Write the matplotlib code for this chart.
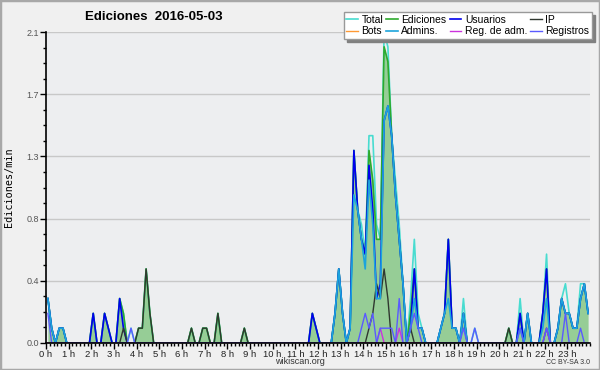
import numpy as np
import matplotlib
matplotlib.use("Agg")
import matplotlib.pyplot as plt
from matplotlib.ticker import MultipleLocator
from matplotlib.patches import Rectangle

# edits per minute, 10 minute bins (6 per hour), one row per hour
total = [
    0.3, 0.1, 0, 0.1, 0.1, 0,      # 0 h
    0, 0, 0, 0, 0, 0,              # 1 h
    0.2, 0, 0, 0.2, 0.1, 0,        # 2 h
    0, 0.3, 0.2, 0, 0.1, 0,        # 3 h
    0.1, 0.1, 0.5, 0.2, 0, 0,      # 4 h
    0, 0, 0, 0, 0, 0,              # 5 h
    0, 0, 0.1, 0, 0, 0.1,          # 6 h
    0.1, 0, 0, 0.2, 0, 0,          # 7 h
    0, 0, 0, 0, 0.1, 0,            # 8 h
    0, 0, 0, 0, 0, 0,              # 9 h
    0, 0, 0, 0, 0, 0,              # 10 h
    0, 0, 0, 0, 0.2, 0.1,          # 11 h
    0, 0, 0, 0, 0.2, 0.5,          # 12 h
    0.2, 0, 0.1, 1.3, 0.9, 0.8,    # 13 h
    0.6, 1.4, 1.4, 0.8, 0.7, 2.1,  # 14 h
    2.0, 1.4, 1.1, 0.8, 0.4, 0,    # 15 h
    0.3, 0.7, 0.2, 0.1, 0, 0,      # 16 h
    0, 0, 0.1, 0.2, 0.7, 0.1,      # 17 h
    0.1, 0, 0.3, 0, 0, 0.1,        # 18 h
    0, 0, 0, 0, 0, 0,              # 19 h
    0, 0, 0.1, 0, 0, 0.3,          # 20 h
    0, 0.2, 0, 0, 0, 0.2,          # 21 h
    0.6, 0, 0, 0.1, 0.3, 0.4,      # 22 h
    0.2, 0.1, 0.1, 0.4, 0.4, 0.2,  # 23 h
]
ediciones = [
    0.3, 0.1, 0, 0.1, 0.1, 0,
    0, 0, 0, 0, 0, 0,
    0.2, 0, 0, 0.2, 0.1, 0,
    0, 0.3, 0.2, 0, 0, 0,
    0.1, 0.1, 0.5, 0.2, 0, 0,
    0, 0, 0, 0, 0, 0,
    0, 0, 0.1, 0, 0, 0.1,
    0.1, 0, 0, 0.2, 0, 0,
    0, 0, 0, 0, 0.1, 0,
    0, 0, 0, 0, 0, 0,
    0, 0, 0, 0, 0, 0,
    0, 0, 0, 0, 0.2, 0.1,
    0, 0, 0, 0, 0.2, 0.5,
    0.2, 0, 0.1, 1.3, 0.9, 0.7,
    0.6, 1.3, 1.1, 0.7, 0.7, 2.0,
    1.9, 1.4, 1.0, 0.7, 0.4, 0,
    0.2, 0.5, 0.1, 0.1, 0, 0,
    0, 0, 0.1, 0.2, 0.7, 0.1,
    0.1, 0, 0.2, 0, 0, 0,
    0, 0, 0, 0, 0, 0,
    0, 0, 0.1, 0, 0, 0.2,
    0, 0.2, 0, 0, 0, 0.2,
    0.5, 0, 0, 0.1, 0.3, 0.2,
    0.2, 0.1, 0.1, 0.3, 0.4, 0.2,
]
usuarios = [
    0.3, 0.1, 0, 0.1, 0.1, 0,
    0, 0, 0, 0, 0, 0,
    0.2, 0, 0, 0.2, 0.1, 0,
    0, 0.3, 0.1, 0, 0, 0,
    0, 0, 0, 0, 0, 0,
    0, 0, 0, 0, 0, 0,
    0, 0, 0, 0, 0, 0,
    0, 0, 0, 0, 0, 0,
    0, 0, 0, 0, 0, 0,
    0, 0, 0, 0, 0, 0,
    0, 0, 0, 0, 0, 0,
    0, 0, 0, 0, 0.2, 0.1,
    0, 0, 0, 0, 0.2, 0.5,
    0.2, 0, 0.1, 1.3, 0.9, 0.7,
    0.6, 1.2, 0.9, 0.3, 0.4, 1.5,
    1.6, 1.4, 1.0, 0.7, 0.4, 0,
    0.1, 0.5, 0.1, 0.1, 0, 0,
    0, 0, 0.1, 0.2, 0.7, 0.1,
    0.1, 0, 0.2, 0, 0, 0,
    0, 0, 0, 0, 0, 0,
    0, 0, 0, 0, 0, 0.2,
    0, 0.2, 0, 0, 0, 0.2,
    0.5, 0, 0, 0.1, 0.3, 0.2,
    0.2, 0.1, 0.1, 0.3, 0.4, 0.2,
]
ip = [
    0, 0, 0, 0, 0, 0,
    0, 0, 0, 0, 0, 0,
    0, 0, 0, 0, 0, 0,
    0, 0, 0.1, 0, 0, 0,
    0.1, 0.1, 0.5, 0.2, 0, 0,
    0, 0, 0, 0, 0, 0,
    0, 0, 0.1, 0, 0, 0.1,
    0.1, 0, 0, 0.2, 0, 0,
    0, 0, 0, 0, 0.1, 0,
    0, 0, 0, 0, 0, 0,
    0, 0, 0, 0, 0, 0,
    0, 0, 0, 0, 0, 0,
    0, 0, 0, 0, 0, 0,
    0, 0, 0, 0, 0, 0,
    0, 0.1, 0.2, 0.4, 0.3, 0.5,
    0.3, 0, 0, 0, 0, 0,
    0.1, 0, 0, 0, 0, 0,
    0, 0, 0, 0, 0, 0,
    0, 0, 0, 0, 0, 0,
    0, 0, 0, 0, 0, 0,
    0, 0, 0.1, 0, 0, 0,
    0, 0, 0, 0, 0, 0,
    0.1, 0, 0, 0, 0, 0,
    0, 0, 0, 0, 0, 0,
]
bots = [0] * 144
admins = [
    0.3, 0.1, 0, 0.1, 0.1, 0,
    0, 0, 0, 0, 0, 0,
    0, 0, 0, 0, 0, 0,
    0, 0, 0, 0, 0, 0,
    0, 0, 0, 0, 0, 0,
    0, 0, 0, 0, 0, 0,
    0, 0, 0, 0, 0, 0,
    0, 0, 0, 0, 0, 0,
    0, 0, 0, 0, 0, 0,
    0, 0, 0, 0, 0, 0,
    0, 0, 0, 0, 0, 0,
    0, 0, 0, 0, 0, 0,
    0, 0, 0, 0, 0.2, 0.5,
    0.2, 0, 0.1, 1.0, 0.9, 0.7,
    0.5, 1.1, 0.8, 0.3, 0.3, 1.5,
    1.6, 1.4, 1.0, 0.7, 0.4, 0,
    0.1, 0.3, 0.1, 0.1, 0, 0,
    0, 0, 0.1, 0.2, 0.3, 0.1,
    0.1, 0, 0.2, 0, 0, 0,
    0, 0, 0, 0, 0, 0,
    0, 0, 0, 0, 0, 0.1,
    0, 0.2, 0, 0, 0, 0.1,
    0.3, 0, 0, 0.1, 0.3, 0.2,
    0.2, 0.1, 0.1, 0.3, 0.4, 0.2,
]
reg_adm = [0] * 144
for i in (88, 93, 132):
    reg_adm[i] = 0.1
registros = [0] * 144
for i, v in {0: 0.2, 22: 0.1, 83: 0.1, 84: 0.2, 85: 0.1, 86: 0.2, 88: 0.1,
             89: 0.1, 90: 0.1, 91: 0.1, 93: 0.3, 96: 0.1, 97: 0.2, 98: 0.1,
             110: 0.1, 113: 0.1, 125: 0.1, 132: 0.1, 137: 0.2, 141: 0.1}.items():
    registros[i] = v

hour_labels = ["%d h" % h for h in range(24)]

plt.rcParams["font.family"] = ["Liberation Sans", "DejaVu Sans"]

x = (np.arange(144) + 0.5) / 6.0

fig = plt.figure(figsize=(6, 3.7), dpi=100, facecolor="#f0f0f0")
ax = fig.add_axes([46 / 600, 1 - 343 / 370, 544 / 600, 311 / 370])
ax.set_facecolor("#edeef0")

ax.fill_between(x, ediciones, 0, color="#96cd96", lw=0, zorder=1)
ax.plot(x, total, color="#48dcd0", lw=1.2, zorder=2, label="Total")
ax.plot(x, ediciones, color="#2eaa2e", lw=1.2, zorder=2, label="Ediciones")
ax.plot(x, usuarios, color="#0000ee", lw=1.2, zorder=2, label="Usuarios")
ax.plot(x, ip, color="#303830", lw=1.0, zorder=2, label="IP")
ax.plot(x, bots, color="#ff9933", lw=1.0, zorder=2, label="Bots")
ax.plot(x, admins, color="#1ca4dc", lw=1.2, zorder=2, label="Admins.")
ax.plot(x, reg_adm, color="#cc33dd", lw=1.0, zorder=2, label="Reg. de adm.")
ax.plot(x, registros, color="#5a5aff", lw=1.0, zorder=2, label="Registros")

ax.set_xlim(0, 24)
ax.set_ylim(0, 2.1)
yt = np.linspace(0, 2.1, 6)
ax.set_yticks(yt)
ax.set_yticklabels(["%.1f" % v for v in yt])
ax.yaxis.set_minor_locator(MultipleLocator(2.1 / 20))
ax.set_xticks(range(24))
ax.set_xticklabels(hour_labels)
ax.xaxis.set_minor_locator(MultipleLocator(1 / 6))
ax.grid(axis="y", color="#c8c8c8", lw=1)
ax.set_axisbelow(True)

for s in ("top", "right"):
    ax.spines[s].set_visible(False)
for s in ("left", "bottom"):
    ax.spines[s].set_linewidth(1.2)
    ax.spines[s].set_zorder(3)

ax.tick_params(axis="both", which="major", direction="out", length=4, width=1, pad=1)
ax.tick_params(axis="both", which="minor", direction="out", length=2.5, width=1)
ax.tick_params(axis="y", labelsize=6.5, labelcolor="#555555")
ax.tick_params(axis="x", labelsize=6.8, labelcolor="#222222")

ax.set_ylabel("Ediciones/min", family="DejaVu Sans Mono", fontsize=7.3)
ax.yaxis.set_label_coords(-0.058, 0.5)

fig.text(154 / 600, 1 - 17 / 370, "Ediciones  2016-05-03", ha="center", va="center",
         fontsize=9.5, fontweight="bold")
fig.text(300 / 600, 1 - 362 / 370, "wikiscan.org", ha="center", va="center",
         fontsize=6.5, color="#333333")
fig.text(590 / 600, 1 - 362 / 370, "CC BY-SA 3.0", ha="right", va="center",
         fontsize=5, color="#333333")

handles, labels = ax.get_legend_handles_labels()
order = [0, 4, 1, 5, 2, 6, 3, 7]
leg = fig.legend([handles[i] for i in order], [labels[i] for i in order],
                 loc="upper right", bbox_to_anchor=(592 / 600, 1 - 12 / 370),
                 borderaxespad=0, ncol=4, fontsize=7.5, handlelength=1.1,
                 handletextpad=0.35, columnspacing=0.3, labelspacing=0.15,
                 borderpad=0.25, fancybox=False, edgecolor="#999999",
                 framealpha=1, shadow={"color": "#808080", "alpha": 1})
leg.get_frame().set_linewidth(1)

fig.add_artist(Rectangle((0, 0), 1, 1, transform=fig.transFigure, fill=False,
                         edgecolor="#a8a8a8", lw=2.5))

fig.savefig("out.png", dpi=100, facecolor=fig.get_facecolor())
